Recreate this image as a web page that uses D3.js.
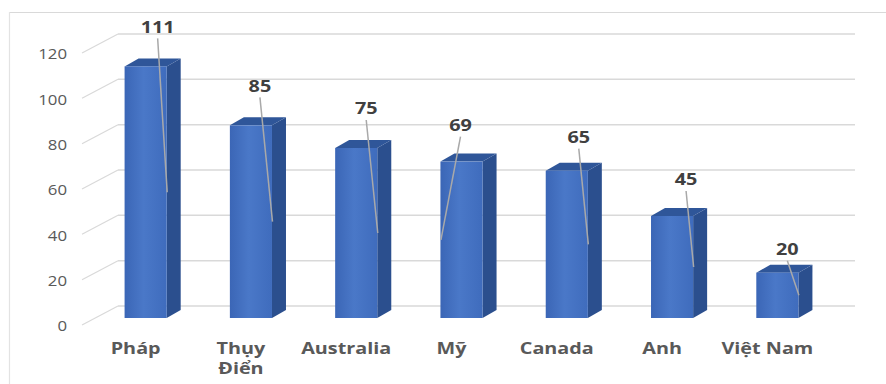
<html>
<head>
  <meta charset="utf-8">
  <style>
    body { margin: 0; background: #ffffff; }
    text { font-family: 'Open Sans', sans-serif; }
  </style>
  <script src="https://d3js.org/d3.v7.min.js"></script>
</head>
<body>
  <div id="chart-container"></div>
  <script>
    // data
    const countries = ["Pháp", "Thụy Điển", "Australia", "Mỹ", "Canada", "Anh", "Việt Nam"];
    const values = [111, 85, 75, 69, 65, 45, 20];
    const yTicks = [0, 20, 40, 60, 80, 100, 120];

    // hand-placed data labels (offset from bar centre / distance above bar top)
    const labelDx = [12, 9, 10, -1, 12, 14, 10];
    const labelRise = [40, 40, 40, 37, 34, 37, 24];
    const leaderToLeft = [false, false, false, true, false, false, false];

    const width = 886, height = 384;
    const stretch = 1.2; // the source text is drawn a bit wide

    const svg = d3.select("#chart-container")
      .append("svg")
      .attr("width", width)
      .attr("height", height);

    const defs = svg.append("defs");
    const grad = defs.append("linearGradient")
      .attr("id", "front")
      .attr("x1", "0%").attr("x2", "100%").attr("y1", "0%").attr("y2", "0%");
    grad.append("stop").attr("offset", "0%").attr("stop-color", "#3b66b6");
    grad.append("stop").attr("offset", "45%").attr("stop-color", "#4a78c8");
    grad.append("stop").attr("offset", "100%").attr("stop-color", "#3f6cbd");

    // frame
    svg.append("line")
      .attr("x1", 9).attr("x2", width).attr("y1", 12.5).attr("y2", 12.5)
      .style("stroke", "#d9d9d9").style("stroke-width", 1.2);
    svg.append("line")
      .attr("x1", 9.5).attr("x2", 9.5).attr("y1", 12).attr("y2", height)
      .style("stroke", "#e3e3e3").style("stroke-width", 1.2);

    const y = d3.scaleLinear().domain([0, 120]).range([318, 46]);
    const x = d3.scaleBand()
      .domain(countries)
      .range([93, 830])
      .paddingInner(0.6)
      .paddingOuter(0.3);

    // 3D offsets
    const wallShift = -12;   // back wall relative to bar front
    const axisShift = 7;     // floor front edge relative to bar front
    const wallX0 = 118, wallX1 = 855, axisX = 82;
    const side = { dx: 14, dy: -8 };

    // wall gridlines + floor diagonals
    const grid = svg.append("g");
    grid.selectAll(".wall")
      .data(yTicks)
      .enter()
      .append("line")
      .attr("x1", wallX0).attr("x2", wallX1)
      .attr("y1", d => y(d) + wallShift).attr("y2", d => y(d) + wallShift)
      .style("stroke", "#d9d9d9").style("stroke-width", 1.5);
    grid.selectAll(".diag")
      .data(yTicks)
      .enter()
      .append("line")
      .attr("x1", axisX).attr("x2", wallX0)
      .attr("y1", d => y(d) + axisShift).attr("y2", d => y(d) + wallShift)
      .style("stroke", "#d9d9d9").style("stroke-width", 1.2);

    // y tick labels
    svg.append("g").selectAll("text")
      .data(yTicks)
      .enter()
      .append("text")
      .attr("transform", d => `translate(67, ${y(d) + axisShift + 1}) scale(${stretch}, 1)`)
      .attr("text-anchor", "end")
      .attr("dominant-baseline", "central")
      .style("font-size", "14px")
      .style("fill", "#595959")
      .text(d => d);

    // bars
    const bars = svg.append("g").selectAll("g")
      .data(values)
      .enter()
      .append("g");

    bars.append("path")
      .attr("d", (d, i) => {
        const x0 = x(countries[i]) + x.bandwidth(), y0 = y(d), y1 = y(0);
        return `M${x0},${y0} L${x0 + side.dx},${y0 + side.dy} L${x0 + side.dx},${y1 + side.dy} L${x0},${y1} Z`;
      })
      .style("fill", "#2b4f8e");

    bars.append("path")
      .attr("d", (d, i) => {
        const x0 = x(countries[i]), x1 = x0 + x.bandwidth(), y0 = y(d);
        return `M${x0},${y0} L${x0 + side.dx},${y0 + side.dy} L${x1 + side.dx},${y0 + side.dy} L${x1},${y0} Z`;
      })
      .style("fill", "#2f5699");

    bars.append("rect")
      .attr("x", (d, i) => x(countries[i]))
      .attr("y", d => y(d))
      .attr("width", x.bandwidth())
      .attr("height", d => y(0) - y(d))
      .style("fill", "url(#front)");

    // leader lines
    bars.append("line")
      .attr("x1", (d, i) => x(countries[i]) + x.bandwidth() / 2 + labelDx[i])
      .attr("y1", (d, i) => y(d) - labelRise[i] + 12)
      .attr("x2", (d, i) => x(countries[i]) + (leaderToLeft[i] ? 0 : x.bandwidth()) + 0.5)
      .attr("y2", d => (y(d) + y(0)) / 2)
      .style("stroke", "#a9a9a9")
      .style("stroke-width", 1.5);

    // value labels
    bars.append("text")
      .attr("transform", (d, i) =>
        `translate(${x(countries[i]) + x.bandwidth() / 2 + labelDx[i]}, ${y(d) - labelRise[i]}) scale(${stretch}, 1)`)
      .attr("text-anchor", "middle")
      .attr("dominant-baseline", "central")
      .style("font-size", "16.5px")
      .style("font-weight", "bold")
      .style("fill", "#404040")
      .text(d => d);

    // category labels
    const cat = svg.append("g").selectAll("text")
      .data(countries)
      .enter()
      .append("text")
      .attr("transform", d => `translate(${x(d) + x.bandwidth() / 2 - 10}, 348) scale(${stretch}, 1)`)
      .attr("text-anchor", "middle")
      .attr("dominant-baseline", "central")
      .style("font-size", "16.5px")
      .style("font-weight", "bold")
      .style("fill", "#595959");

    cat.each(function (d) {
      const words = d === "Thụy Điển" ? ["Thụy", "Điển"] : [d];
      d3.select(this).selectAll("tspan")
        .data(words)
        .enter()
        .append("tspan")
        .attr("x", 0)
        .attr("dy", (w, j) => j === 0 ? 0 : 20)
        .text(w => w);
    });
  </script>
</body>
</html>
